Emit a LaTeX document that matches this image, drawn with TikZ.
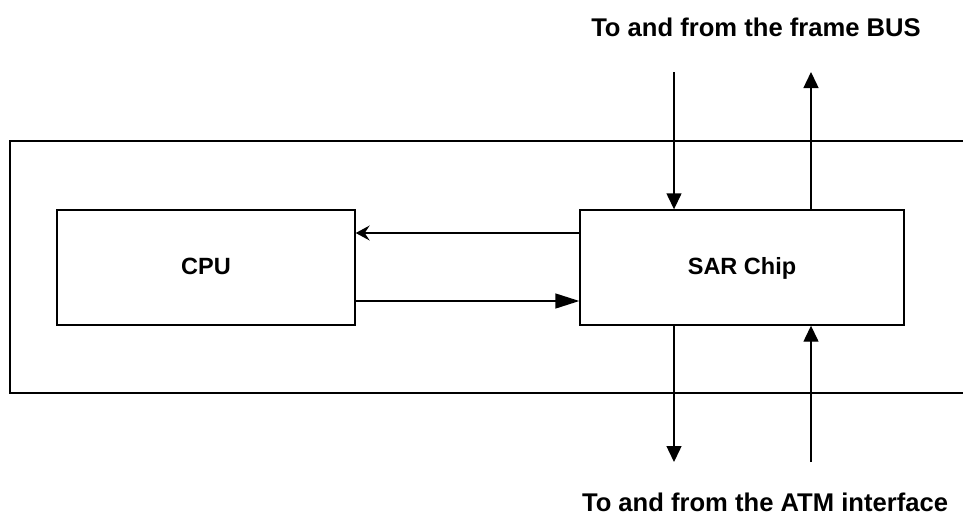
\documentclass[tikz,border=0pt]{standalone}
\usepackage{fontspec}
\setmainfont{Liberation Sans}
\usetikzlibrary{arrows.meta}
\begin{document}
\begin{tikzpicture}[x=1pt,y=-1pt,
  line width=1.4pt,
  box/.style={draw, minimum width=#1, inner sep=0pt, text height=17pt, text depth=4pt},
  lbl/.style={font=\fontsize{25.6}{30}\selectfont\bfseries, inner sep=0pt},
  boxlbl/.style={font=\fontsize{23.5}{28}\selectfont\bfseries},
  tipv/.style={-{Triangle[length=16pt,width=15pt]}},
  tipl/.style={-{Stealth[length=14pt,width=15pt,inset=5pt]}},
  tipr/.style={-{Triangle[length=24pt,width=15pt]}}]
\useasboundingbox (0,0) rectangle (963,517);
\clip (0,0) rectangle (963,517);
% outer frame (right side beyond the picture)
\draw (975,141) -- (10,141) -- (10,393) -- (975,393);
% boxes
\node[box=298pt, minimum height=115pt, boxlbl] (cpu) at (206,267.5) {CPU};
\node[box=324pt, minimum height=115pt, boxlbl] (sar) at (742,267.5) {SAR Chip};
% labels
\node[lbl] (top) at (756,27) {To and from the frame BUS};
\node[lbl] (bot) at (765,502) {To and from the ATM interface};
% free ends
\coordinate (tin) at (674,72);
\coordinate (tout) at (811,72);
\coordinate (bout) at (674,462);
\coordinate (bin) at (811,462);
% connectors
\draw[tipv] (tin) -- (tin |- sar.north);
\draw[tipv] (tout |- sar.north) -- (tout);
\draw[tipv] (bout |- sar.south) -- (bout);
\draw[tipv] (bin) -- (bin |- sar.south);
\draw[tipl] (sar.west |- 0,233) -- (cpu.east |- 0,233);
\draw[tipr] (cpu.east |- 0,301) -- (sar.west |- 0,301);
\end{tikzpicture}
\end{document}
